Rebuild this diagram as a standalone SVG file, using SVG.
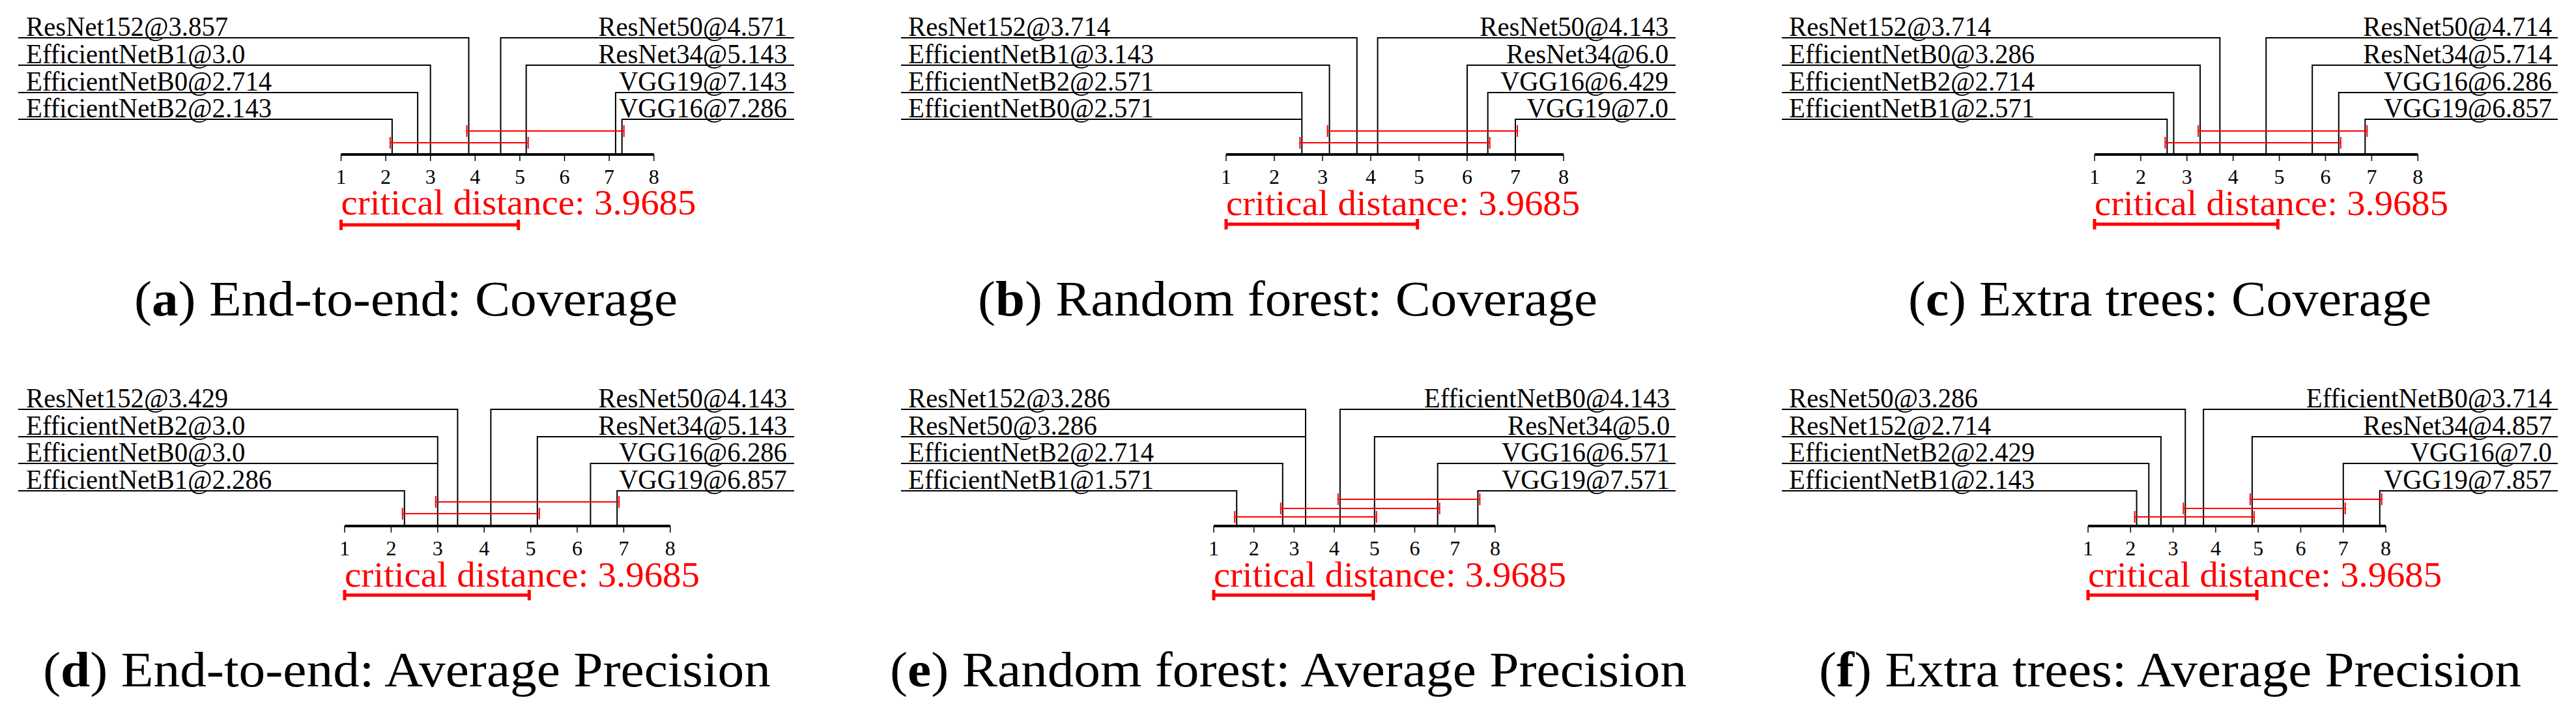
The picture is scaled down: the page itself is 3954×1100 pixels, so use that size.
<svg xmlns="http://www.w3.org/2000/svg" width="3954" height="1100" viewBox="0 0 3954 1100">
<style>
text{font-family:"Liberation Serif","DejaVu Serif",serif;fill:#000}
.lab{font-size:42px}
.r{text-anchor:end}
.tk{font-size:32px;text-anchor:middle}
.cd{font-size:54px;fill:#ff0000}
.cap{font-size:76px}
.ln{fill:none;stroke:#000;stroke-width:2}
.ax{stroke:#000;stroke-width:4}
.tc{stroke:#000;stroke-width:1.5}
.cl{fill:none;stroke:#ff0000;stroke-width:2}
.cb{fill:none;stroke:#ff0000;stroke-width:5}
</style>
<rect width="3954" height="1100" fill="#fff"/>

<g id="panel-a">
<g id="a-connectors">
<path class="ln" d="M28 58H719.5V237M28 100H660.7V237M28 142H641.1V237M28 183H601.9V237M1219 58H768.5V237M1219 100H807.7V237M1219 142H944.9V237M1219 183H954.7V237"/>
<line class="ax" x1="523.5" y1="237" x2="1003.7" y2="237"/>
<path class="tc" d="M523.5 237v10M592.1 237v10M660.7 237v10M729.3 237v10M797.9 237v10M866.5 237v10M935.1 237v10M1003.7 237v10"/>
<path class="cl" d="M716.5 201H957.7M716.5 192v18M957.7 192v18M598.9 219H810.7M598.9 210v18M810.7 210v18"/>
<path class="cb" d="M523.5 345H795.7M523.5 337v16M795.7 337v16"/>
</g>
<g><text class="tk" x="523.5" y="282">1</text><text class="tk" x="592.1" y="282">2</text><text class="tk" x="660.7" y="282">3</text><text class="tk" x="729.3" y="282">4</text><text class="tk" x="797.9" y="282">5</text><text class="tk" x="866.5" y="282">6</text><text class="tk" x="935.1" y="282">7</text><text class="tk" x="1003.7" y="282">8</text></g>
<text class="lab" transform="translate(40 55) scale(0.97 1)">ResNet152@3.857</text>
<text class="lab" transform="translate(40 97) scale(0.97 1)">EfficientNetB1@3.0</text>
<text class="lab" transform="translate(40 139) scale(0.97 1)">EfficientNetB0@2.714</text>
<text class="lab" transform="translate(40 180) scale(0.97 1)">EfficientNetB2@2.143</text>
<text class="lab r" transform="translate(1208 55) scale(0.97 1)">ResNet50@4.571</text>
<text class="lab r" transform="translate(1208 97) scale(0.97 1)">ResNet34@5.143</text>
<text class="lab r" transform="translate(1208 139) scale(0.97 1)">VGG19@7.143</text>
<text class="lab r" transform="translate(1208 180) scale(0.97 1)">VGG16@7.286</text>
<text class="cd" x="523.5" y="329" textLength="545" lengthAdjust="spacingAndGlyphs">critical distance:  3.9685</text>
<text class="cap" x="206" y="484" textLength="834" lengthAdjust="spacingAndGlyphs">(<tspan font-weight="bold">a</tspan>) End-to-end: Coverage</text>
</g>

<g id="panel-b">
<g id="b-connectors">
<path class="ln" d="M1383 58H2082.8V237M1383 100H2040.6V237M1383 142H1998.3V237M1383 183H1998.3V237M2572 58H2114.6V237M2572 100H2252V237M2572 142H2283.7V237M2572 183H2326V237"/>
<line class="ax" x1="1882" y1="237" x2="2400" y2="237"/>
<path class="tc" d="M1882 237v10M1956 237v10M2030 237v10M2104 237v10M2178 237v10M2252 237v10M2326 237v10M2400 237v10"/>
<path class="cl" d="M2037.6 201H2329M2037.6 192v18M2329 192v18M1995.3 219H2286.7M1995.3 210v18M2286.7 210v18"/>
<path class="cb" d="M1882 344H2175.7M1882 336v16M2175.7 336v16"/>
</g>
<g><text class="tk" x="1882" y="282">1</text><text class="tk" x="1956" y="282">2</text><text class="tk" x="2030" y="282">3</text><text class="tk" x="2104" y="282">4</text><text class="tk" x="2178" y="282">5</text><text class="tk" x="2252" y="282">6</text><text class="tk" x="2326" y="282">7</text><text class="tk" x="2400" y="282">8</text></g>
<text class="lab" transform="translate(1394 55) scale(0.97 1)">ResNet152@3.714</text>
<text class="lab" transform="translate(1394 97) scale(0.97 1)">EfficientNetB1@3.143</text>
<text class="lab" transform="translate(1394 139) scale(0.97 1)">EfficientNetB2@2.571</text>
<text class="lab" transform="translate(1394 180) scale(0.97 1)">EfficientNetB0@2.571</text>
<text class="lab r" transform="translate(2561 55) scale(0.97 1)">ResNet50@4.143</text>
<text class="lab r" transform="translate(2561 97) scale(0.97 1)">ResNet34@6.0</text>
<text class="lab r" transform="translate(2561 139) scale(0.97 1)">VGG16@6.429</text>
<text class="lab r" transform="translate(2561 180) scale(0.97 1)">VGG19@7.0</text>
<text class="cd" x="1882" y="330" textLength="543" lengthAdjust="spacingAndGlyphs">critical distance:  3.9685</text>
<text class="cap" x="1501" y="484" textLength="951" lengthAdjust="spacingAndGlyphs">(<tspan font-weight="bold">b</tspan>) Random forest: Coverage</text>
</g>

<g id="panel-c">
<g id="c-connectors">
<path class="ln" d="M2735 58H3407.4V237M2735 100H3377.1V237M2735 142H3336.5V237M2735 183H3326.4V237M3926 58H3478.3V237M3926 100H3549.2V237M3926 142H3589.8V237M3926 183H3630.3V237"/>
<line class="ax" x1="3215" y1="237" x2="3711.3" y2="237"/>
<path class="tc" d="M3215 237v10M3285.9 237v10M3356.8 237v10M3427.7 237v10M3498.6 237v10M3569.5 237v10M3640.4 237v10M3711.3 237v10"/>
<path class="cl" d="M3374.1 201H3633.3M3374.1 192v18M3633.3 192v18M3323.4 219H3592.8M3323.4 210v18M3592.8 210v18"/>
<path class="cb" d="M3215 344H3496.4M3215 336v16M3496.4 336v16"/>
</g>
<g><text class="tk" x="3215" y="282">1</text><text class="tk" x="3285.9" y="282">2</text><text class="tk" x="3356.8" y="282">3</text><text class="tk" x="3427.7" y="282">4</text><text class="tk" x="3498.6" y="282">5</text><text class="tk" x="3569.5" y="282">6</text><text class="tk" x="3640.4" y="282">7</text><text class="tk" x="3711.3" y="282">8</text></g>
<text class="lab" transform="translate(2746 55) scale(0.97 1)">ResNet152@3.714</text>
<text class="lab" transform="translate(2746 97) scale(0.97 1)">EfficientNetB0@3.286</text>
<text class="lab" transform="translate(2746 139) scale(0.97 1)">EfficientNetB2@2.714</text>
<text class="lab" transform="translate(2746 180) scale(0.97 1)">EfficientNetB1@2.571</text>
<text class="lab r" transform="translate(3917 55) scale(0.97 1)">ResNet50@4.714</text>
<text class="lab r" transform="translate(3917 97) scale(0.97 1)">ResNet34@5.714</text>
<text class="lab r" transform="translate(3917 139) scale(0.97 1)">VGG16@6.286</text>
<text class="lab r" transform="translate(3917 180) scale(0.97 1)">VGG19@6.857</text>
<text class="cd" x="3215" y="330" textLength="543" lengthAdjust="spacingAndGlyphs">critical distance:  3.9685</text>
<text class="cap" x="2929" y="484" textLength="803" lengthAdjust="spacingAndGlyphs">(<tspan font-weight="bold">c</tspan>) Extra trees: Coverage</text>
</g>

<g id="panel-d">
<g id="d-connectors">
<path class="ln" d="M28 628H702.4V807M28 670H671.8V807M28 711H671.8V807M28 753H620.8V807M1219 628H753.4V807M1219 670H824.8V807M1219 711H906.4V807M1219 753H947.2V807"/>
<line class="ax" x1="529" y1="807" x2="1028.8" y2="807"/>
<path class="tc" d="M529 807v10M600.4 807v10M671.8 807v10M743.2 807v10M814.6 807v10M886 807v10M957.4 807v10M1028.8 807v10"/>
<path class="cl" d="M668.8 770H950.2M668.8 761v18M950.2 761v18M617.8 788H827.8M617.8 779v18M827.8 779v18"/>
<path class="cb" d="M529 913H812.3M529 905v16M812.3 905v16"/>
</g>
<g><text class="tk" x="529" y="852">1</text><text class="tk" x="600.4" y="852">2</text><text class="tk" x="671.8" y="852">3</text><text class="tk" x="743.2" y="852">4</text><text class="tk" x="814.6" y="852">5</text><text class="tk" x="886" y="852">6</text><text class="tk" x="957.4" y="852">7</text><text class="tk" x="1028.8" y="852">8</text></g>
<text class="lab" transform="translate(40 625) scale(0.97 1)">ResNet152@3.429</text>
<text class="lab" transform="translate(40 667) scale(0.97 1)">EfficientNetB2@3.0</text>
<text class="lab" transform="translate(40 708) scale(0.97 1)">EfficientNetB0@3.0</text>
<text class="lab" transform="translate(40 750) scale(0.97 1)">EfficientNetB1@2.286</text>
<text class="lab r" transform="translate(1208 625) scale(0.97 1)">ResNet50@4.143</text>
<text class="lab r" transform="translate(1208 667) scale(0.97 1)">ResNet34@5.143</text>
<text class="lab r" transform="translate(1208 708) scale(0.97 1)">VGG16@6.286</text>
<text class="lab r" transform="translate(1208 750) scale(0.97 1)">VGG19@6.857</text>
<text class="cd" x="529" y="900" textLength="545" lengthAdjust="spacingAndGlyphs">critical distance:  3.9685</text>
<text class="cap" x="66" y="1053" textLength="1117" lengthAdjust="spacingAndGlyphs">(<tspan font-weight="bold">d</tspan>) End-to-end: Average Precision</text>
</g>

<g id="panel-e">
<g id="e-connectors">
<path class="ln" d="M1383 628H2004V807M1383 670H2004V807M1383 711H1968.8V807M1383 753H1898.2V807M2572 628H2056.9V807M2572 670H2109.8V807M2572 711H2206.7V807M2572 753H2268.4V807"/>
<line class="ax" x1="1863" y1="807" x2="2294.9" y2="807"/>
<path class="tc" d="M1863 807v10M1924.7 807v10M1986.4 807v10M2048.1 807v10M2109.8 807v10M2171.5 807v10M2233.2 807v10M2294.9 807v10"/>
<path class="cl" d="M2053.9 766H2271.4M2053.9 757v18M2271.4 757v18M1965.8 780H2209.7M1965.8 771v18M2209.7 771v18M1895.2 793H2112.8M1895.2 784v18M2112.8 784v18"/>
<path class="cb" d="M1863 913H2107.9M1863 905v16M2107.9 905v16"/>
</g>
<g><text class="tk" x="1863" y="852">1</text><text class="tk" x="1924.7" y="852">2</text><text class="tk" x="1986.4" y="852">3</text><text class="tk" x="2048.1" y="852">4</text><text class="tk" x="2109.8" y="852">5</text><text class="tk" x="2171.5" y="852">6</text><text class="tk" x="2233.2" y="852">7</text><text class="tk" x="2294.9" y="852">8</text></g>
<text class="lab" transform="translate(1394 625) scale(0.97 1)">ResNet152@3.286</text>
<text class="lab" transform="translate(1394 667) scale(0.97 1)">ResNet50@3.286</text>
<text class="lab" transform="translate(1394 708) scale(0.97 1)">EfficientNetB2@2.714</text>
<text class="lab" transform="translate(1394 750) scale(0.97 1)">EfficientNetB1@1.571</text>
<text class="lab r" transform="translate(2563 625) scale(0.97 1)">EfficientNetB0@4.143</text>
<text class="lab r" transform="translate(2563 667) scale(0.97 1)">ResNet34@5.0</text>
<text class="lab r" transform="translate(2563 708) scale(0.97 1)">VGG16@6.571</text>
<text class="lab r" transform="translate(2563 750) scale(0.97 1)">VGG19@7.571</text>
<text class="cd" x="1863" y="900" textLength="541" lengthAdjust="spacingAndGlyphs">critical distance:  3.9685</text>
<text class="cap" x="1366" y="1053" textLength="1223" lengthAdjust="spacingAndGlyphs">(<tspan font-weight="bold">e</tspan>) Random forest: Average Precision</text>
</g>

<g id="panel-f">
<g id="f-connectors">
<path class="ln" d="M2735 628H3354.3V807M2735 670H3316.9V807M2735 711H3298.3V807M2735 753H3279.6V807M3926 628H3382.2V807M3926 670H3456.9V807M3926 711H3596.8V807M3926 753H3652.8V807"/>
<line class="ax" x1="3205" y1="807" x2="3662.1" y2="807"/>
<path class="tc" d="M3205 807v10M3270.3 807v10M3335.6 807v10M3400.9 807v10M3466.2 807v10M3531.5 807v10M3596.8 807v10M3662.1 807v10"/>
<path class="cl" d="M3453.9 766H3655.8M3453.9 757v18M3655.8 757v18M3351.3 780H3599.8M3351.3 771v18M3599.8 771v18M3276.6 793H3459.9M3276.6 784v18M3459.9 784v18"/>
<path class="cb" d="M3205 913H3464.1M3205 905v16M3464.1 905v16"/>
</g>
<g><text class="tk" x="3205" y="852">1</text><text class="tk" x="3270.3" y="852">2</text><text class="tk" x="3335.6" y="852">3</text><text class="tk" x="3400.9" y="852">4</text><text class="tk" x="3466.2" y="852">5</text><text class="tk" x="3531.5" y="852">6</text><text class="tk" x="3596.8" y="852">7</text><text class="tk" x="3662.1" y="852">8</text></g>
<text class="lab" transform="translate(2746 625) scale(0.97 1)">ResNet50@3.286</text>
<text class="lab" transform="translate(2746 667) scale(0.97 1)">ResNet152@2.714</text>
<text class="lab" transform="translate(2746 708) scale(0.97 1)">EfficientNetB2@2.429</text>
<text class="lab" transform="translate(2746 750) scale(0.97 1)">EfficientNetB1@2.143</text>
<text class="lab r" transform="translate(3917 625) scale(0.97 1)">EfficientNetB0@3.714</text>
<text class="lab r" transform="translate(3917 667) scale(0.97 1)">ResNet34@4.857</text>
<text class="lab r" transform="translate(3917 708) scale(0.97 1)">VGG16@7.0</text>
<text class="lab r" transform="translate(3917 750) scale(0.97 1)">VGG19@7.857</text>
<text class="cd" x="3205" y="900" textLength="543" lengthAdjust="spacingAndGlyphs">critical distance:  3.9685</text>
<text class="cap" x="2792" y="1053" textLength="1078" lengthAdjust="spacingAndGlyphs">(<tspan font-weight="bold">f</tspan>) Extra trees: Average Precision</text>
</g>
</svg>
